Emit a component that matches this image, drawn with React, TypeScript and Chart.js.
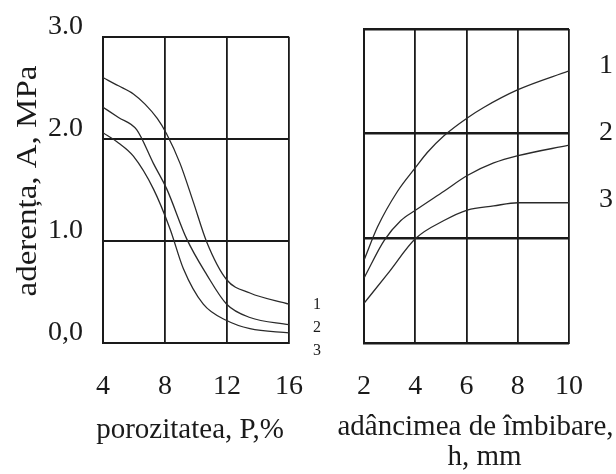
import React, { useEffect, useRef } from 'react';
import { Chart, registerables } from 'chart.js';

Chart.register(...registerables);

// ---- data ----
const adhesionTickLabels = ['0,0', '1.0', '2.0', '3.0'];
const porosityTitle = 'porozitatea, P,%';
const depthTitle = ['adâncimea de îmbibare,', 'h, mm'];
const adhesionTitle = 'aderența, A, MPa';
const curveNames = ['1', '2', '3'];

// left panel: adhesion vs porosity
const porosity1 = [4, 5.0, 5.96, 6.71, 7.5, 8.1, 8.97, 9.83, 10.69, 11.98, 13.48, 16];
const adhesionP1 = [2.6, 2.52, 2.44, 2.34, 2.2, 2.05, 1.76, 1.38, 0.99, 0.62, 0.49, 0.38];
const porosity2 = [4, 5.0, 6.17, 7.25, 8.11, 9.4, 10.69, 11.98, 13.48, 16];
const adhesionP2 = [2.31, 2.21, 2.09, 1.76, 1.51, 1.02, 0.67, 0.38, 0.25, 0.18];
const porosity3 = [4, 5.0, 5.96, 7.25, 8.32, 9.18, 10.47, 11.98, 13.48, 16];
const adhesionP3 = [2.06, 1.96, 1.83, 1.51, 1.12, 0.73, 0.38, 0.22, 0.14, 0.1];

// right panel: adhesion vs impregnation depth
const depth1 = [2, 2.53, 3.31, 4.02, 4.47, 5.12, 6.03, 6.67, 8.01, 10];
const adhesionD1 = [0.79, 1.11, 1.45, 1.68, 1.82, 1.98, 2.15, 2.25, 2.42, 2.6];
const depth2 = [2, 2.79, 3.44, 4.02, 5.12, 6.03, 7.06, 8.01, 10];
const adhesionD2 = [0.62, 0.98, 1.17, 1.27, 1.45, 1.6, 1.72, 1.79, 1.89];
const depth3 = [2, 2.92, 4.02, 5.12, 6.03, 7.06, 8.01, 10];
const adhesionD3 = [0.38, 0.66, 1.0, 1.17, 1.27, 1.31, 1.34, 1.34];

const FONT = '"Liberation Serif", "Times New Roman", serif';
const INK = '#1a1a1a';
const CURVE = '#2a2a2a';

const toPoints = (xs: number[], ys: number[]) => xs.map((x, i) => ({ x, y: ys[i] }));

const curve = (xs: number[], ys: number[]) => ({
  data: toPoints(xs, ys),
  borderColor: CURVE,
  borderWidth: 1.3,
  pointRadius: 0,
  fill: false,
  cubicInterpolationMode: 'monotone' as const,
});

type TextItem = {
  text: string;
  x: (a: any) => number;
  y: (a: any) => number;
  size: number;
  rotate?: boolean;
  stretch?: number;
  baseline?: CanvasTextBaseline;
};

const textPlugin = (items: TextItem[]) => ({
  id: 'extraTexts',
  afterDraw(chart: any) {
    const { ctx, chartArea } = chart;
    ctx.save();
    ctx.fillStyle = INK;
    ctx.textAlign = 'center';
    for (const it of items) {
      ctx.font = `${it.size}px ${FONT}`;
      ctx.textBaseline = it.baseline ?? 'middle';
      const x = it.x(chartArea);
      const y = it.y(chartArea);
      ctx.save();
      ctx.translate(x, y);
      if (it.rotate) ctx.rotate(-Math.PI / 2);
      if (it.stretch) ctx.scale(it.stretch, 1);
      ctx.fillText(it.text, 0, 0);
      ctx.restore();
    }
    ctx.restore();
  },
});

function makeOptions(p: {
  xMin: number; xMax: number; xStep: number;
  yWidth: number; showYTicks: boolean; padTop: number; padRight: number; yGridWidth: number;
}) {
  return {
    responsive: false,
    animation: false as const,
    events: [] as any[],
    layout: { padding: { top: p.padTop, right: p.padRight, bottom: 0, left: 0 } },
    plugins: { legend: { display: false }, tooltip: { enabled: false }, title: { display: false } },
    scales: {
      x: {
        type: 'linear' as const,
        min: p.xMin,
        max: p.xMax,
        afterFit: (s: any) => { s.height = 131; },
        grid: { color: INK, lineWidth: 1.8, drawTicks: false },
        border: { display: true, color: INK, width: 2 },
        ticks: {
          stepSize: p.xStep,
          padding: 27,
          color: INK,
          font: { family: FONT, size: 28 },
          maxRotation: 0,
        },
      },
      y: {
        type: 'linear' as const,
        min: 0,
        max: 3,
        afterFit: (s: any) => { s.width = p.yWidth; },
        grid: { color: INK, lineWidth: p.yGridWidth, drawTicks: false },
        border: { display: true, color: INK, width: 2 },
        ticks: {
          display: p.showYTicks,
          stepSize: 1,
          padding: 20,
          labelOffset: -10,
          color: INK,
          font: { family: FONT, size: 28 },
          callback: (v: any) => adhesionTickLabels[Math.round(Number(v))] ?? '',
        },
      },
    },
  };
}

export default function App() {
  const leftRef = useRef<HTMLCanvasElement | null>(null);
  const rightRef = useRef<HTMLCanvasElement | null>(null);

  useEffect(() => {
    document.body.style.margin = '0';
    const left = new Chart(leftRef.current as HTMLCanvasElement, {
      type: 'line',
      data: {
        datasets: [
          curve(porosity1, adhesionP1),
          curve(porosity2, adhesionP2),
          curve(porosity3, adhesionP3),
        ],
      },
      options: makeOptions({
        xMin: 4, xMax: 16, xStep: 4,
        yWidth: 103, showYTicks: true, padTop: 32, padRight: 41, yGridWidth: 2,
      }) as any,
      plugins: [
        textPlugin([
          { text: adhesionTitle, x: () => 28, y: () => 181, size: 30, rotate: true, stretch: 1.1 },
          { text: porosityTitle, x: (a) => (a.left + a.right) / 2 - 6, y: (a) => a.bottom + 95, size: 29, baseline: 'alphabetic' },
          { text: curveNames[0], x: (a) => a.right + 28, y: (a) => a.bottom - 38, size: 16 },
          { text: curveNames[1], x: (a) => a.right + 28, y: (a) => a.bottom - 15, size: 16 },
          { text: curveNames[2], x: (a) => a.right + 28, y: (a) => a.bottom + 8, size: 16 },
        ]),
      ],
    });
    const right = new Chart(rightRef.current as HTMLCanvasElement, {
      type: 'line',
      data: {
        datasets: [
          curve(depth1, adhesionD1),
          curve(depth2, adhesionD2),
          curve(depth3, adhesionD3),
        ],
      },
      options: makeOptions({
        xMin: 2, xMax: 10, xStep: 2,
        yWidth: 33, showYTicks: false, padTop: 29, padRight: 47, yGridWidth: 2.6,
      }) as any,
      plugins: [
        textPlugin([
          { text: depthTitle[0], x: (a) => (a.left + a.right) / 2 + 9, y: (a) => a.bottom + 92, size: 29, baseline: 'alphabetic' },
          { text: depthTitle[1], x: (a) => (a.left + a.right) / 2 + 18, y: (a) => a.bottom + 122, size: 29, baseline: 'alphabetic' },
          { text: curveNames[0], x: (a) => a.right + 37, y: (a) => a.top + 37, size: 28 },
          { text: curveNames[1], x: (a) => a.right + 37, y: (a) => a.top + 104, size: 28 },
          { text: curveNames[2], x: (a) => a.right + 37, y: (a) => a.top + 171, size: 28 },
        ]),
      ],
    });
    return () => {
      left.destroy();
      right.destroy();
    };
  }, []);

  return (
    <div style={{ position: 'absolute', left: 0, top: 0, width: 616, height: 474, background: '#fff' }}>
      <canvas ref={leftRef} width={330} height={474}
        style={{ position: 'absolute', left: 0, top: 0, width: 330, height: 474 }} />
      <canvas ref={rightRef} width={286} height={474}
        style={{ position: 'absolute', left: 330, top: 0, width: 286, height: 474 }} />
    </div>
  );
}
